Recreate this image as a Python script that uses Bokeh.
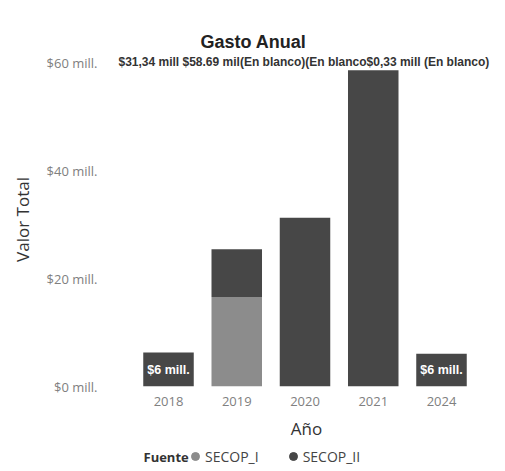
from bokeh.plotting import figure
from bokeh.layouts import column
from bokeh.models import Range1d, FixedTicker, Label, Legend, LegendItem, ColumnDataSource, Title
from bokeh.core.properties import value
from bokeh.embed import file_html
from bokeh.resources import INLINE

# ---- data ----
years = ["2018", "2019", "2020", "2021", "2024"]
secop_i = [0.0, 16.6, 0.0, 0.0, 0.0]
secop_ii = [6.3, 8.9, 31.34, 58.69, 6.1]
series_names = ["SECOP_I", "SECOP_II"]
series_colors = ["#8c8c8c", "#474747"]
y_ticks = [0, 20, 40, 60]
y_tick_labels = ["$0 mill.", "$20 mill.", "$40 mill.", "$60 mill."]
inside_idx = [0, 4]
inside_labels = ["$6 mill.", "$6 mill."]
top_row_labels = ["$31,34 mill ", "$58.69 mil", "(En blanco)", "(En blanco", "$0,33 mill ", "(En blanco)"]
legend_title = "Fuente"

idx = list(range(len(years)))
src = ColumnDataSource(dict(x=idx, secop_i=secop_i, secop_ii=secop_ii))

p = figure(width=497, height=446, output_backend="svg", toolbar_location=None,
           x_range=Range1d(-0.7766, 4.8205), y_range=Range1d(0, 62),
           min_border_left=115, min_border_right=0, min_border_top=52, min_border_bottom=60)
p.outline_line_color = None
p.grid.visible = False
p.background_fill_color = "white"
p.border_fill_color = "white"

p.vbar_stack(["secop_i", "secop_ii"], x="x", width=0.74, color=series_colors,
             line_color=None, source=src)

# labels inside small bars
lab_src = ColumnDataSource(dict(
    x=inside_idx,
    y=[(secop_i[i] + secop_ii[i]) / 2 for i in inside_idx],
    t=inside_labels))
p.text(x="x", y="y", text="t", source=lab_src, text_align="center", text_baseline="middle",
       text_color="white", text_font=value("Liberation Sans"), text_font_style="bold",
       text_font_size="12.5px")

# axes
for ax in (p.xaxis[0], p.yaxis[0]):
    ax.axis_line_color = None
    ax.major_tick_line_color = None
    ax.minor_tick_line_color = None
    ax.major_label_text_font = "Open Sans"
    ax.major_label_text_color = "#808080"
    ax.major_label_text_font_size = "13px"
    ax.axis_label_text_font = "Open Sans"
    ax.axis_label_text_font_style = "normal"
    ax.axis_label_text_color = "#333333"
    ax.axis_label_text_font_size = "17px"

p.xaxis.ticker = FixedTicker(ticks=idx)
p.xaxis.major_label_overrides = {i: y for i, y in zip(idx, years)}
p.xaxis.axis_label = "Año"
p.xaxis.major_label_standoff = 4
p.xaxis.axis_label_standoff = 8

p.yaxis.ticker = FixedTicker(ticks=y_ticks)
p.yaxis.major_label_overrides = {t: l for t, l in zip(y_ticks, y_tick_labels)}
p.yaxis.axis_label = "Valor Total"
p.yaxis.major_label_standoff = 12
p.yaxis.axis_label_standoff = 10

# title
p.title = Title(text="Gasto Anual", align="left", offset=85, standoff=1,
                text_font="Liberation Sans", text_font_style="bold",
                text_font_size="18px", text_color="#222222")

# overlapping data labels row (inside the frame)
p.add_layout(Label(x=-0.733, y=60.15, text="".join(top_row_labels), text_align="left",
                   text_baseline="middle", text_font="Liberation Sans",
                   text_font_style="bold", text_font_size="12px", text_color="#333333"))

# ---- legend strip (separate small figure; its frame aligns with the main frame) ----
lf = figure(width=497, height=22, output_backend="svg", toolbar_location=None,
            x_range=Range1d(115, 497), y_range=Range1d(0, 22),
            x_axis_type=None, y_axis_type=None,
            min_border_left=0, min_border_right=0, min_border_top=0, min_border_bottom=0)
lf.outline_line_color = None
lf.grid.visible = False
# legend proxies: one point each, kept outside the visible range
r1 = lf.scatter(x=[-1000], y=[-1000], marker="circle", size=8, color=series_colors[0])
r2 = lf.scatter(x=[-1000], y=[-1000], marker="circle", size=8, color=series_colors[1])
legend = Legend(items=[LegendItem(label=series_names[0], renderers=[r1]),
                       LegendItem(label=series_names[1], renderers=[r2])],
                location=(70, 2), orientation="horizontal",
                glyph_width=20, glyph_height=20, label_standoff=-8, spacing=24,
                padding=0, margin=0, border_line_color=None, background_fill_alpha=0,
                label_text_font="Open Sans", label_text_font_size="14px",
                label_text_color="#444444", label_height=20)
lf.add_layout(legend, "center")
lf.add_layout(Label(x=143, y=12, text=legend_title, text_align="left",
                    text_baseline="middle", text_font="Open Sans", text_font_style="bold",
                    text_font_size="13px", text_color="#333333"))

layout = column(p, lf, spacing=0)
open("out.html", "w").write(file_html(layout, INLINE))
